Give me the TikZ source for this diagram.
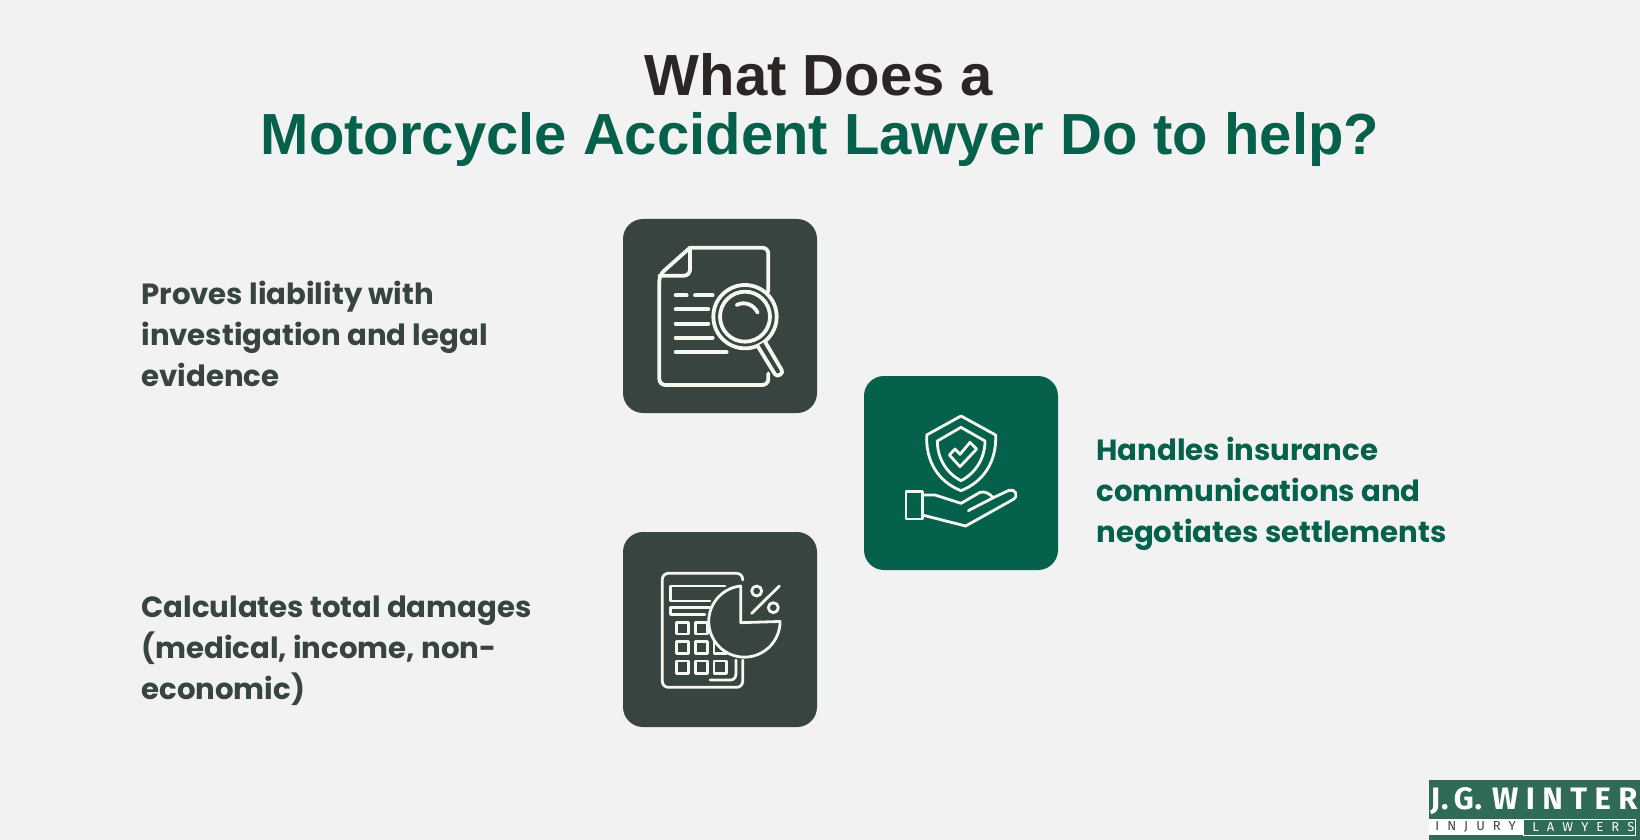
\documentclass[tikz,border=0pt]{standalone}
\usepackage{fontspec}
\setmainfont{Poppins}[BoldFont={Poppins Bold}]
\newfontfamily\titlefont{Liberation Sans}
\newfontfamily\logofont{Fira Sans}[LetterSpace=3]
\newfontfamily\logowide{Fira Sans}[LetterSpace=24]
\newfontfamily\logosmall{Fira Sans}[LetterSpace=62]
\definecolor{pagebg}{HTML}{F2F2F2}
\definecolor{slate}{HTML}{38443F}
\definecolor{pine}{HTML}{05614B}
\definecolor{ink}{HTML}{2B2523}
\definecolor{chalk}{HTML}{F5F8EE}
\definecolor{logogreen}{HTML}{2F6B57}
\tikzset{
  card/.style={rounded corners=10pt,draw=none},
  ico/.style={draw=chalk,line width=1.4pt,line cap=round,line join=round},
  icothick/.style={draw=chalk,line width=1.9pt,line cap=round,line join=round},
  body/.style={anchor=west,align=left,inner sep=0pt,font=\fontsize{14.6}{20.5}\selectfont\bfseries},
  ttl/.style={anchor=center,inner sep=0pt,font=\titlefont\fontsize{29}{30}\selectfont\bfseries},
  zoomed/.style={x=0.16667pt,y=-0.16667pt}
}
\begin{document}
\begin{tikzpicture}[x=0.5pt,y=-0.5pt]
\useasboundingbox (0,0) rectangle (1640,840);
\fill[pagebg] (0,0) rectangle (1640,840);
\node[ttl,text=ink] (t1) at (819,75) {What Does a};
\node[ttl,text=pine] (t2) at (820,140) {Motorcycle Accident Lawyer Do to help?};
\node[body,text=slate] (a) at (141,335) {\rule{0pt}{15pt}Proves liability with\\investigation and legal\\evidence\rule[-5pt]{0pt}{5pt}};
\node[body,text=pine] (b) at (1096,491) {\rule{0pt}{15pt}Handles insurance\\communications and\\negotiates settlements\rule[-5pt]{0pt}{5pt}};
\node[body,text=slate] (c) at (141,648) {\rule{0pt}{15pt}Calculates total damages\\(medical, income, non-\\economic)\rule[-5pt]{0pt}{5pt}};
\fill[card,slate] (623,219) rectangle (817,413);
\fill[card,pine] (864,376) rectangle (1058,570);
\fill[card,slate] (623,532) rectangle (817,727);
% document icon
\begin{scope}[shift={(610,210)},zoomed]
\draw[icothick,rounded corners=3pt] (240,113) -- (475,113) -- (475,245);
\draw[icothick,rounded corners=3pt] (475,490) -- (475,525) -- (148,525) -- (148,195) -- (240,113);
\draw[icothick,rounded corners=3pt] (240,113) -- (240,197) -- (148,197);
\draw[icothick] (197,256) -- (230,256) (255,256) -- (308,256) (197,298) -- (295,298) (197,341) -- (295,341) (197,383) -- (308,383) (197,426) -- (350,426);
\draw[icothick,fill=slate] (405,320) circle[radius=95];
\draw[icothick] (405,320) circle[radius=75];
\draw[icothick] (380,285) .. controls (405,272) and (432,285) .. (443,308);
\draw[icothick,fill=slate] (443,408) -- (495,493) .. controls (503,503) and (522,490) .. (515,480) -- (465,395);
\end{scope}
% shield icon
\begin{scope}[shift={(855,365)},zoomed]
\draw[ico] (318,153) -- (215,210) .. controls (212,290) and (250,350) .. (318,377) .. controls (386,350) and (425,290) .. (422,210) -- cycle;
\draw[ico] (318,187) -- (247,228) .. controls (247,280) and (275,325) .. (318,347) .. controls (361,325) and (390,280) .. (390,228) -- cycle;
\draw[ico] (283,270) -- (300,252) -- (315,268) -- (345,232) -- (365,252) -- (315,305) -- cycle;
\draw[ico] (153,380) rectangle (202,462);
\draw[ico] (202,390) -- (240,390) -- (318,415) -- (375,382) .. controls (390,378) and (402,385) .. (415,398) -- (462,376) .. controls (480,370) and (492,392) .. (475,403) -- (332,483) -- (202,450);
\draw[ico] (340,437) -- (415,398);
\end{scope}
% calculator icon
\begin{scope}[shift={(610,525)},zoomed]
\draw[ico,rounded corners=3pt] (398,165) -- (398,145) -- (157,145) -- (157,487) -- (398,487) -- (398,405);
\draw[ico] (345,183) -- (182,183) -- (182,228) -- (300,228) (300,247) -- (182,247) -- (182,268) -- (285,268);
\draw[ico] (200,292) rectangle (235,327) (257,292) rectangle (292,327) (200,350) rectangle (235,385) (257,350) rectangle (292,385) (312,350) rectangle (350,385) (200,408) rectangle (235,445) (257,408) rectangle (292,445) (312,408) rectangle (350,445);
\draw[ico] (300,465) -- (360,465) .. controls (372,465) and (378,458) .. (378,445) -- (378,405);
\draw[ico,fill=slate] (392,293) -- (392,183) arc[start angle=264,radius=107,delta angle=-264] -- cycle;
\draw[ico] (425,265) -- (508,183);
\draw[ico] (440,198) circle[radius=15] (490,248) circle[radius=15];
\end{scope}
% logo
\fill[logogreen] (1429,780) rectangle (1640,840);
\fill[white] (1429,819) rectangle (1523,835);
\draw[white,line width=0.3pt] (1523,819) rectangle (1635,835);
\node[anchor=west,inner sep=0pt,text=white,font=\fontsize{15.5}{16}\selectfont\bfseries] (l1) at (1430,801) {\logofont J.\,G.\kern5pt\logowide WINTER};
\node[anchor=west,inner sep=0pt,text=slate,font=\logosmall\fontsize{6.5}{7}\selectfont] (l2) at (1435,827) {INJURY};
\node[anchor=west,inner sep=0pt,text=white,font=\logosmall\fontsize{6.5}{7}\selectfont] (l3) at (1532,827) {LAWYERS};
\end{tikzpicture}
\end{document}
